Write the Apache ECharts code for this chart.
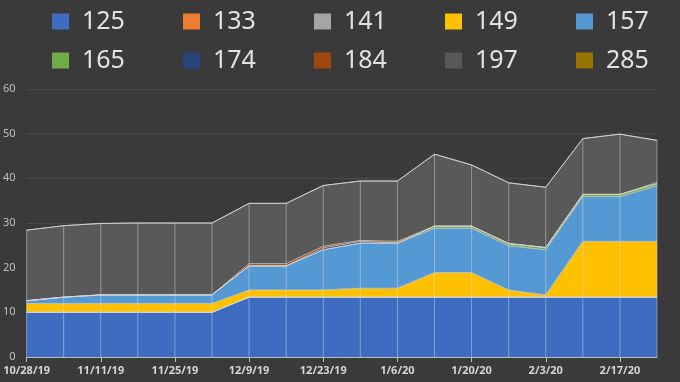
<!DOCTYPE html>
<html>
<head>
<meta charset="utf-8">
<script src="https://cdn.jsdelivr.net/npm/echarts@6/dist/echarts.min.js"></script>
<style>
html,body{margin:0;padding:0;background:#3a3a3a;}
#c{width:680px;height:382px;}
</style>
</head>
<body>
<div id="c"></div>
<script>
const dates = ['10/28/19','11/4/19','11/11/19','11/18/19','11/25/19','12/2/19','12/9/19','12/16/19','12/23/19','12/30/19','1/6/20','1/13/20','1/20/20','1/27/20','2/3/20','2/10/20','2/17/20','2/24/20'];
const seriesNames = ['125','133','141','149','157','165','174','184','197','285'];
const s125 = [10,10,10,10,10,10,13.4,13.4,13.4,13.4,13.4,13.4,13.4,13.4,13.4,13.4,13.4,13.4];
const s133 = [0,0,0,0,0,0,0,0,0,0,0,0,0,0,0,0,0,0];
const s141 = [0,0,0,0,0,0,0,0,0,0,0,0,0,0,0,0,0,0];
const s149 = [2,2,2,2,2,2,1.6,1.6,1.6,2.0,2.0,5.5,5.5,1.6,0.5,12.5,12.5,12.5];
const s157 = [0.6,1.4,1.9,1.9,1.9,1.9,5.4,5.4,9.0,10.1,10.1,9.9,9.9,9.9,10.1,10.0,10.0,12.4];
const s165 = [0,0,0,0,0,0,0,0,0,0,0,0.5,0.5,0.5,0.5,0.5,0.5,0.5];
const s174 = [0,0,0,0,0,0,0,0,0.4,0.4,0,0,0,0,0,0,0,0];
const s184 = [0,0,0,0,0,0,0.5,0.5,0.4,0.2,0.4,0,0,0,0,0,0,0.3];
const s197 = [15.8,16.0,16.0,16.1,16.1,16.1,13.5,13.5,13.6,13.3,13.5,16.1,13.7,13.6,13.5,12.5,13.5,9.4];
const s285 = [0,0,0,0,0,0,0,0,0,0,0,0,0,0,0,0,0,0];
const yTicks = [0,10,20,30,40,50,60];

const allData = [s125,s133,s141,s149,s157,s165,s174,s184,s197,s285];
const colors = ['#3d6cc0','#ed7d31','#a5a5a5','#ffc000','#5599d4','#70ad47','#264478','#9e480e','#595959','#997300'];

const totals = dates.map((d,i)=>allData.reduce((a,s)=>a+s[i],0));

const chart = echarts.init(document.getElementById('c'));
const series = seriesNames.map((n,k)=>({
  name:n, type:'line', stack:'all', data:allData[k],
  showSymbol:false, symbol:'none',
  lineStyle:{width:1,color:'rgba(215,215,215,0.75)'},
  areaStyle:{color:colors[k],opacity:1},
  itemStyle:{color:colors[k]},
  z:2
}));
series.push({
  type:'custom', silent:true, z:10,
  data: totals.map((t,i)=>[i,t]),
  renderItem:(params,api)=>{
    const p0 = api.coord([api.value(0),0]);
    const p1 = api.coord([api.value(0),api.value(1)]);
    return {type:'line', shape:{x1:p0[0],y1:p0[1],x2:p1[0],y2:p1[1]},
      style:{stroke:'rgba(225,225,225,0.45)',lineWidth:1}};
  }
});

const legends = seriesNames.map((n,i)=>({
  data:[n], left: 52 + (i%5)*131, top: 9 + Math.floor(i/5)*39,
  padding:0, itemWidth:17, itemHeight:16, icon:'rect', selectedMode:false,
  itemStyle:{borderWidth:0},
  textStyle:{color:'#e2e2e2', fontSize:25, fontFamily:'Noto Sans', padding:[0,0,0,8]}
}));

chart.setOption({
  backgroundColor:'#3a3a3a',
  animation:false,
  legend: legends,
  grid:{left:25,right:23,top:89,bottom:25,containLabel:false},
  xAxis:{
    type:'category', boundaryGap:false, data:dates,
    axisLine:{show:true,lineStyle:{color:'#bdbdbd',width:1}},
    axisTick:{show:true,interval:1,length:5,lineStyle:{color:'#bdbdbd'}},
    axisLabel:{interval:1,color:'#d4d4d4',fontSize:11,fontWeight:'bold',fontFamily:'Noto Sans',margin:8},
    splitLine:{show:false}
  },
  yAxis:{
    type:'value', min:yTicks[0], max:yTicks[yTicks.length-1], interval:10,
    axisLine:{show:false}, axisTick:{show:false},
    axisLabel:{color:'#bfbfbf',fontSize:11,fontFamily:'Noto Sans',margin:11},
    splitLine:{lineStyle:{color:'#4a4a4a',width:1}}
  },
  series: series
});
</script>
</body>
</html>
